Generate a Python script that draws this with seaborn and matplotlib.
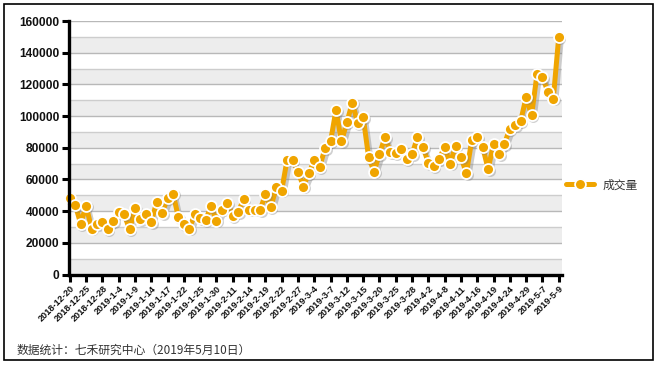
import numpy as np
import pandas as pd
import matplotlib
matplotlib.use("Agg")
import matplotlib.pyplot as plt
import matplotlib.patheffects as pe
import matplotlib.transforms as mtransforms
from matplotlib.lines import Line2D
from matplotlib.patches import Rectangle
import seaborn as sns

# ---- data ----
series_name = "成交量"
values = [48000, 44000, 32000, 43500, 29000, 32000, 33000, 28500, 33500, 39500,
          38000, 28500, 41700, 35000, 38000, 33000, 46000, 39000, 48000, 51000,
          36000, 32000, 29000, 38000, 35500, 34500, 43000, 34000, 41000, 45000,
          37000, 39500, 47500, 41000, 41000, 40500, 50500, 42500, 55000, 53000,
          72500, 72000, 65000, 55500, 64000, 72000, 68000, 80000, 84000, 104000,
          84000, 96000, 108500, 95500, 99500, 74000, 65000, 76000, 86500, 77500,
          76500, 79000, 73000, 76000, 86500, 80500, 70500, 68500, 73000, 80500,
          70000, 81000, 74000, 64000, 85000, 86500, 80500, 66500, 82500, 76000,
          82500, 92000, 94500, 97000, 112000, 100500, 126500, 124500, 115500, 111000,
          150000]
tick_labels = ["2018-12-20", "2018-12-25", "2018-12-28", "2019-1-4", "2019-1-9",
               "2019-1-14", "2019-1-17", "2019-1-22", "2019-1-25", "2019-1-30",
               "2019-2-11", "2019-2-14", "2019-2-19", "2019-2-22", "2019-2-27",
               "2019-3-4", "2019-3-7", "2019-3-12", "2019-3-15", "2019-3-20",
               "2019-3-25", "2019-3-28", "2019-4-2", "2019-4-8", "2019-4-11",
               "2019-4-16", "2019-4-19", "2019-4-24", "2019-4-29", "2019-5-7",
               "2019-5-9"]
footer = "数据统计：七禾研究中心（2019年5月10日）"

df = pd.DataFrame({"idx": np.arange(len(values)), "value": values})

sns.set_theme(style="white")
plt.rcParams["font.family"] = ["Liberation Sans", "Noto Sans CJK SC"]

W, H = 657, 366
fig = plt.figure(figsize=(W / 100, H / 100), dpi=100)
ax = fig.add_axes([69 / W, 1 - 274.5 / H, (562 - 69) / W, (274.5 - 21) / H])

color = "#F0A500"
shadow_fx = [pe.SimpleLineShadow(offset=(1.8, -2.2), shadow_color="#808080", alpha=0.4), pe.Normal()]

# background bands + grid
for k in range(0, 160000, 20000):
    ax.axhspan(k, k + 10000, color="#EDEDED", zorder=0, lw=0)
for v in range(10000, 160001, 10000):
    ax.axhline(v, color="#B8B8B8" if v % 20000 == 0 else "#CDCDCD", lw=1.0, zorder=1)

# line with shadow
sns.lineplot(data=df, x="idx", y="value", ax=ax, color=color, lw=3.6,
             zorder=3, path_effects=shadow_fx)
ax.lines[-1].set_clip_on(False)
# marker shadows
shadow_tr = mtransforms.offset_copy(ax.transData, fig=fig, x=1.6, y=-1.8, units="dots")
sns.scatterplot(data=df, x="idx", y="value", ax=ax, color="#7a7a7a", alpha=0.35,
                s=62, linewidth=0, zorder=3.5, transform=shadow_tr, clip_on=False)
# markers
sns.scatterplot(data=df, x="idx", y="value", ax=ax, color=color, s=62,
                edgecolor="white", linewidth=1.3, zorder=4, clip_on=False)

ax.set_xlim(-0.15, len(values) - 1 + 0.6)
ax.set_ylim(0, 160000)
ax.set_xticks(np.arange(0, len(values), 3))
ax.set_xticklabels(tick_labels, rotation=45, ha="right", rotation_mode="anchor",
                   fontsize=6.6, fontweight="bold", color="#111111")
ax.set_yticks(np.arange(0, 160001, 20000))
ax.set_yticklabels([str(v) for v in range(0, 160001, 20000)], fontsize=8.6,
                   fontweight="bold", color="#111111")
ax.tick_params(axis="x", direction="out", length=5, width=2.2, color="black", pad=2, bottom=True)
ax.tick_params(axis="y", direction="out", length=5, width=2.2, color="black", pad=2, left=True)
ax.set_xlabel("")
ax.set_ylabel("")
for s in ["top", "right"]:
    ax.spines[s].set_visible(False)
for s in ["left", "bottom"]:
    ax.spines[s].set_visible(True)
    ax.spines[s].set_color("black")
    ax.spines[s].set_linewidth(2.4)
    ax.spines[s].set_zorder(5)
ax.set_facecolor("white")

# legend
handle = Line2D([], [], color=color, lw=3.6, marker="o", markersize=7.8,
                markerfacecolor=color, markeredgecolor="white", markeredgewidth=1.3)
fig.legend([handle], [series_name], loc="center left",
           bbox_to_anchor=(566 / W, 1 - 185 / H), bbox_transform=fig.transFigure,
           frameon=False, borderpad=0, borderaxespad=0, handlelength=2.4,
           handletextpad=0.7, prop={"family": ["Noto Sans CJK SC"], "size": 8.5},
           labelcolor="#333333")

# footer
fig.text(17 / W, 1 - 350 / H, footer, fontsize=8.5, color="#333333", va="center",
         ha="left", family=["Noto Sans CJK SC", "Liberation Sans"])

# outer frame
fig.patches.append(Rectangle((3.5 / W, 1 - 360 / H), (653 - 3.5) / W, (360 - 4) / H,
                             transform=fig.transFigure, fill=False, edgecolor="black",
                             lw=1.2, zorder=10))

fig.savefig("out.png", dpi=100)
